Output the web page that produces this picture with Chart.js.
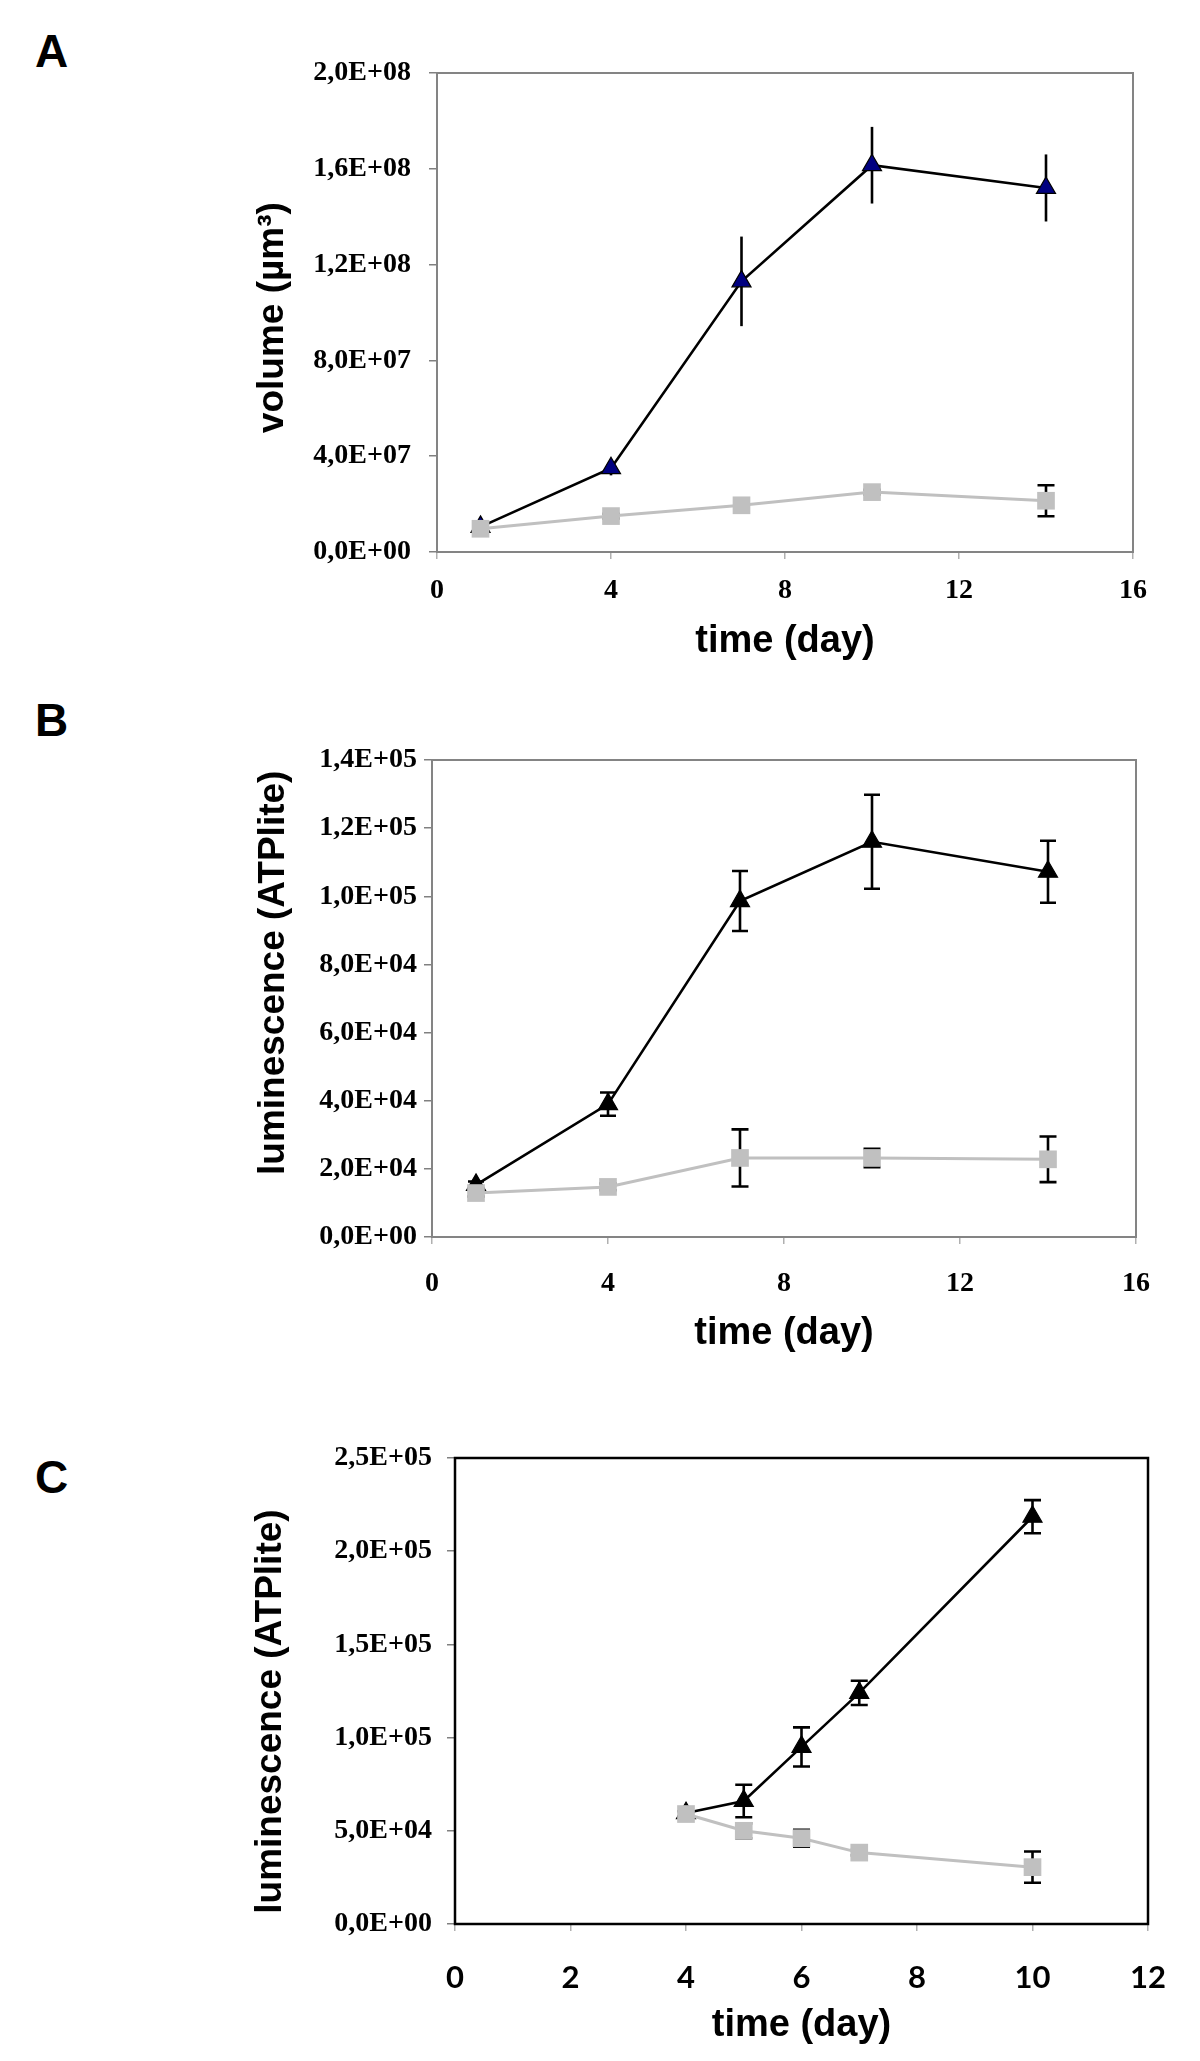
<!DOCTYPE html>
<html>
<head>
<meta charset="utf-8">
<script src="https://cdn.jsdelivr.net/npm/chart.js@4.4.1/dist/chart.umd.min.js"></script>
<style>
    body { margin: 0; background: #fff; width: 1200px; height: 2061px; position: relative; overflow: hidden; }
    canvas { position: absolute; left: 0; }
    .tag { position: absolute; left: 35px; font: bold 46px "Liberation Sans", Arial, sans-serif; line-height: 1; color: #000; }
</style>
</head>
<body>
<div class="tag" style="top:28px">A</div>
<div class="tag" style="top:697px">B</div>
<div class="tag" style="top:1454px">C</div>
<canvas id="chartA" width="1200" height="690" style="top:0px"></canvas>
<canvas id="chartB" width="1200" height="690" style="top:690px"></canvas>
<canvas id="chartC" width="1200" height="681" style="top:1380px"></canvas>
<script>
    // 패널 A: 부피 (µm³)
    const daysA = [1, 4, 7, 10, 14];
    const volTri = [1.05e7, 3.5e7, 1.13e8, 1.615e8, 1.52e8];
    const volTriErr = [0.1e7, 0.3e7, 1.87e7, 1.6e7, 1.4e7];
    const volSq = [0.97e7, 1.5e7, 1.95e7, 2.5e7, 2.14e7];
    const volSqErr = [0.1e7, 0.1e7, 0.1e7, 0.1e7, 0.65e7];
    const yTicksA = ['0,0E+00', '4,0E+07', '8,0E+07', '1,2E+08', '1,6E+08', '2,0E+08'];
    const xTicksA = ['0', '4', '8', '12', '16'];

    // 패널 B: 발광 (ATPlite)
    const daysB = [1, 4, 7, 10, 14];
    const lumTriB = [1.53e4, 3.9e4, 9.86e4, 1.16e5, 1.072e5];
    const lumTriErrB = [0.1e4, 0.34e4, 0.88e4, 1.38e4, 0.91e4];
    const lumSqB = [1.29e4, 1.47e4, 2.32e4, 2.32e4, 2.28e4];
    const lumSqErrB = [0.1e4, 0.1e4, 0.84e4, 0.27e4, 0.67e4];
    const yTicksB = ['0,0E+00', '2,0E+04', '4,0E+04', '6,0E+04', '8,0E+04', '1,0E+05', '1,2E+05', '1,4E+05'];
    const xTicksB = ['0', '4', '8', '12', '16'];

    // 패널 C: 발광 (ATPlite), 4일째부터
    const daysC = [4, 5, 6, 7, 10];
    const lumTriC = [5.95e4, 6.6e4, 9.5e4, 1.24e5, 2.185e5];
    const lumTriErrC = [0, 0.87e4, 1.05e4, 0.65e4, 0.89e4];
    const lumSqC = [5.9e4, 5.0e4, 4.6e4, 3.83e4, 3.05e4];
    const lumSqErrC = [0.15e4, 0.4e4, 0.45e4, 0.15e4, 0.84e4];
    const yTicksC = ['0,0E+00', '5,0E+04', '1,0E+05', '1,5E+05', '2,0E+05', '2,5E+05'];
    const xTicksC = ['0', '2', '4', '6', '8', '10', '12'];

    const SERIF = 'Liberation Serif, Times New Roman, serif';
    const SANS = 'Liberation Sans, Arial, sans-serif';

    // 플롯 영역 테두리
    const framePlugin = {
        id: 'frame',
        beforeDatasetsDraw(chart, args, opts) {
            const { ctx, chartArea: a } = chart;
            ctx.save();
            ctx.strokeStyle = opts.color;
            ctx.lineWidth = opts.width;
            ctx.strokeRect(a.left, a.top, a.right - a.left, a.bottom - a.top);
            ctx.restore();
        }
    };

    // 오차 막대 (축 스케일로 위치 계산)
    const errorBarPlugin = {
        id: 'errorBars',
        beforeDatasetsDraw(chart) {
            const { ctx, scales: { x, y } } = chart;
            chart.data.datasets.forEach(ds => {
                if (!ds.errors) return;
                ctx.save();
                ctx.strokeStyle = '#000';
                ctx.lineWidth = 2.6;
                ds.data.forEach((p, i) => {
                    const e = ds.errors[i];
                    if (!e) return;
                    const px = x.getPixelForValue(p.x);
                    const top = y.getPixelForValue(p.y + e);
                    const bot = y.getPixelForValue(p.y - e);
                    const c = ds.capWidth / 2;
                    ctx.beginPath();
                    ctx.moveTo(px, top);
                    ctx.lineTo(px, bot);
                    if (c) {
                        ctx.moveTo(px - c, top); ctx.lineTo(px + c, top);
                        ctx.moveTo(px - c, bot); ctx.lineTo(px + c, bot);
                    }
                    ctx.stroke();
                });
                ctx.restore();
            });
        }
    };

    const toPoints = (xs, ys) => xs.map((d, i) => ({ x: d, y: ys[i] }));

    function makePanel(id, p) {
        const ctx = document.getElementById(id).getContext('2d');
        return new Chart(ctx, {
            type: 'line',
            data: {
                datasets: [
                    {
                        // 회색 사각형 (위에 그려짐)
                        data: toPoints(p.days, p.sq),
                        errors: p.sqErr,
                        capWidth: 17,
                        borderColor: '#c0c0c0',
                        borderWidth: 3,
                        pointStyle: 'rect',
                        pointRadius: 12.5,
                        pointBackgroundColor: '#c0c0c0',
                        pointBorderColor: '#c0c0c0',
                        pointBorderWidth: 0,
                        tension: 0
                    },
                    {
                        // 검은 삼각형
                        data: toPoints(p.days, p.tri),
                        errors: p.triErr,
                        capWidth: p.triCap,
                        borderColor: '#000',
                        borderWidth: 2.6,
                        pointStyle: 'triangle',
                        pointRadius: 11,
                        pointBackgroundColor: p.triFill,
                        pointBorderColor: '#000',
                        pointBorderWidth: 1.2,
                        tension: 0
                    }
                ]
            },
            options: {
                responsive: false,
                animation: false,
                devicePixelRatio: 1,
                layout: { padding: { left: 230, right: p.padRight, top: p.padTop, bottom: 0 } },
                plugins: {
                    legend: { display: false },
                    tooltip: { enabled: false },
                    frame: { color: p.frameColor, width: p.frameWidth }
                },
                scales: {
                    x: {
                        type: 'linear',
                        min: 0,
                        max: p.xMax,
                        afterFit: s => { s.height = p.xHeight; },
                        ticks: {
                            stepSize: p.xStep,
                            autoSkip: false,
                            maxRotation: 0,
                            padding: p.xPad,
                            color: '#000',
                            font: p.xFont,
                            callback: (v, i) => p.xTicks[i]
                        },
                        grid: { drawOnChartArea: false, drawTicks: true, tickLength: 7, tickColor: '#b0b0b0', lineWidth: 1.5 },
                        border: { display: false },
                        title: {
                            display: true,
                            text: 'time (day)',
                            color: '#000',
                            font: { family: SANS, size: 38, weight: 'bold' },
                            padding: { top: 0, bottom: p.xTitlePad }
                        }
                    },
                    y: {
                        min: 0,
                        max: p.yMax,
                        afterFit: s => { s.width = p.yWidth; },
                        ticks: {
                            stepSize: p.yStep,
                            padding: p.yPad,
                            color: '#000',
                            font: { family: SERIF, size: 28, weight: 'bold' },
                            callback: (v, i) => p.yTicks[i]
                        },
                        grid: { drawOnChartArea: false, drawTicks: true, tickLength: 8, tickColor: '#808080', lineWidth: 1.5 },
                        border: { display: false },
                        title: {
                            display: true,
                            text: p.yTitle,
                            color: '#000',
                            font: { family: SANS, size: 37, weight: 'bold' },
                            padding: { top: p.yTitlePad, bottom: 0 }
                        }
                    }
                }
            },
            plugins: [framePlugin, errorBarPlugin]
        });
    }

    // 1. 패널 A
    makePanel('chartA', {
        days: daysA, tri: volTri, triErr: volTriErr, sq: volSq, sqErr: volSqErr,
        triFill: '#000080', triCap: 0,
        xTicks: xTicksA, yTicks: yTicksA, xMax: 16, xStep: 4, yMax: 2e8, yStep: 4e7,
        yTitle: 'volume (µm³) ',
        padTop: 73, padRight: 67, yWidth: 207, xHeight: 138,
        xPad: 15, xTitlePad: 26, yPad: 18, yTitlePad: 21,
        xFont: { family: SERIF, size: 28, weight: 'bold' },
        frameColor: '#848484', frameWidth: 2
    });

    // 2. 패널 B (제목 위치 보정을 위해 앞쪽 공백)
    makePanel('chartB', {
        days: daysB, tri: lumTriB, triErr: lumTriErrB, sq: lumSqB, sqErr: lumSqErrB,
        triFill: '#000', triCap: 16,
        xTicks: xTicksB, yTicks: yTicksB, xMax: 16, xStep: 4, yMax: 1.4e5, yStep: 2e4,
        yTitle: '     luminescence (ATPlite)',
        padTop: 70, padRight: 64, yWidth: 202, xHeight: 143,
        xPad: 23, xTitlePad: 24, yPad: 7, yTitlePad: 22,
        xFont: { family: SERIF, size: 28, weight: 'bold' },
        frameColor: '#848484', frameWidth: 2
    });

    // 3. 패널 C (제목 위치 보정을 위해 뒤쪽 공백)
    makePanel('chartC', {
        days: daysC, tri: lumTriC, triErr: lumTriErrC, sq: lumSqC, sqErr: lumSqErrC,
        triFill: '#000', triCap: 17,
        xTicks: xTicksC, yTicks: yTicksC, xMax: 12, xStep: 2, yMax: 2.5e5, yStep: 5e4,
        yTitle: 'luminescence (ATPlite)    ',
        padTop: 78, padRight: 52, yWidth: 225, xHeight: 137,
        xPad: 28, xTitlePad: 13, yPad: 15, yTitlePad: 19,
        xFont: { family: 'Lato, Carlito, Liberation Sans, sans-serif', size: 31, weight: 'bold' },
        frameColor: '#000', frameWidth: 2.5
    });
</script>
</body>
</html>
